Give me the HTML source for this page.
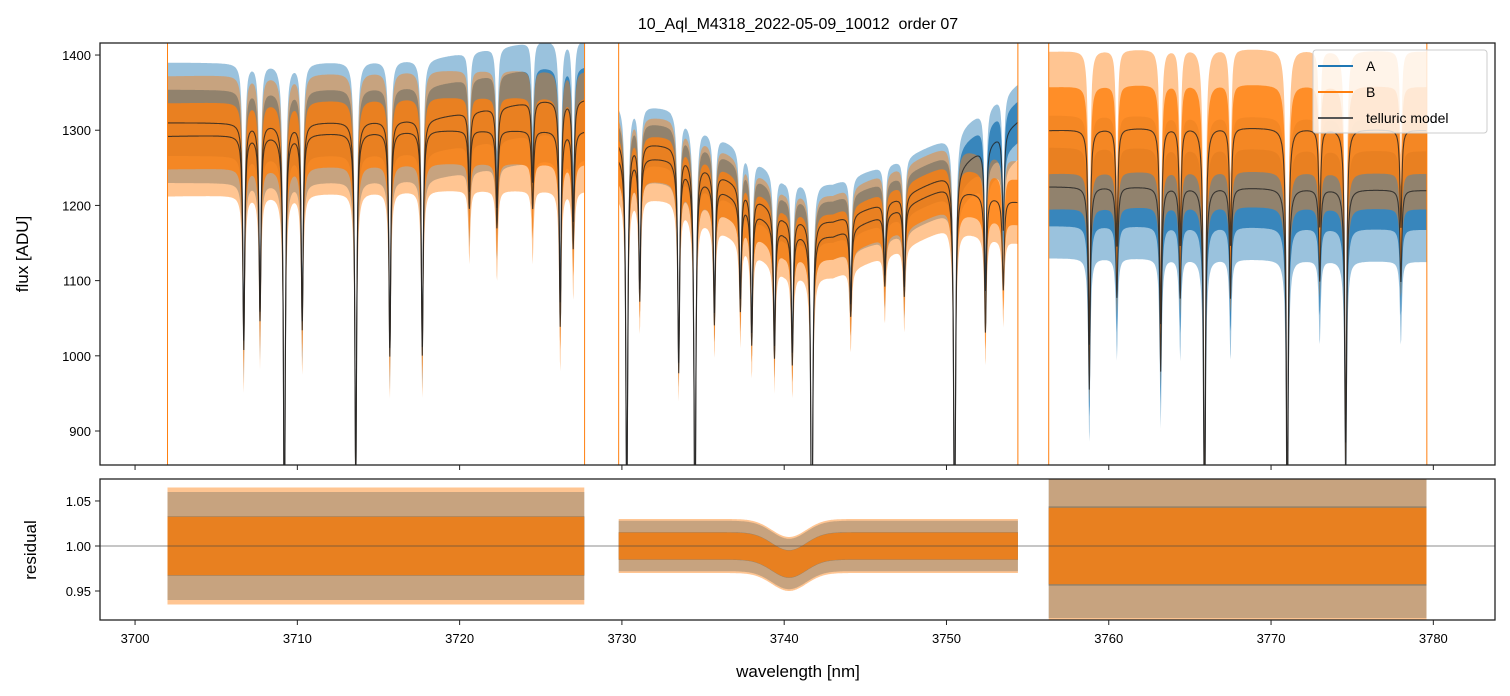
<!DOCTYPE html>
<html><head><meta charset="utf-8">
<style>
html,body{margin:0;padding:0;background:#fff;overflow:hidden;}
svg{display:block;font-family:"Liberation Sans","DejaVu Sans",sans-serif;}
</style></head>
<body>
<svg id="chart" width="1510" height="696" viewBox="0 0 1510 696" xmlns="http://www.w3.org/2000/svg">
<defs>
<clipPath id="clipTop"><rect x="100" y="43" width="1395" height="422"/></clipPath>
<clipPath id="clipBot"><rect x="100" y="479" width="1395" height="141"/></clipPath>
</defs>
<rect width="1510" height="696" fill="#fff"/>
<text x="798" y="29" font-size="16" text-anchor="middle">10_Aql_M4318_2022-05-09_10012 &#160;order 07</text>
<g id="topPlot" clip-path="url(#clipTop)"></g>
<g id="botPlot" clip-path="url(#clipBot)"></g>
<g id="axes"></g>
<text x="28" y="254" font-size="17" text-anchor="middle" transform="rotate(-90 28 254)">flux [ADU]</text>
<text x="36" y="550" font-size="17" text-anchor="middle" transform="rotate(-90 36 550)">residual</text>
<text x="798" y="677" font-size="17" text-anchor="middle">wavelength [nm]</text>
<g>
<rect x="1313" y="50" width="174" height="83" rx="3" fill="#fff" fill-opacity="0.8" stroke="#ccc"/>
<line x1="1318" y1="66" x2="1353" y2="66" stroke="#1f77b4" stroke-width="2"/>
<text x="1366" y="71" font-size="14">A</text>
<line x1="1318" y1="92" x2="1353" y2="92" stroke="#ff7f0e" stroke-width="2"/>
<text x="1366" y="97" font-size="14">B</text>
<line x1="1318" y1="118" x2="1353" y2="118" stroke="#555" stroke-width="2"/>
<text x="1366" y="123" font-size="14">telluric model</text>
</g>
</svg>
<script>
// ---- data ----
const segments = [[3702.0, 3727.7], [3729.8, 3754.4], [3756.3, 3779.6]];
const lineCenters = [3706.7,3707.7,3709.2,3710.3,3713.6,3715.7,3717.7,3720.6,3722.3,3724.5,3726.2,3727.0,
  3730.3,3731.1,3733.5,3734.5,3735.7,3737.3,3738.0,3739.4,3740.5,3741.7,3744.1,3746.2,3747.4,3750.5,3752.4,3753.5,
  3758.8,3760.5,3763.2,3764.4,3765.9,3767.5,3771.0,3773.0,3774.6,3778.0];
const lineDepths = [0.22,0.19,0.42,0.2,0.36,0.23,0.23,0.08,0.1,0.08,0.2,0.12,
  0.38,0.15,0.22,0.4,0.15,0.12,0.15,0.15,0.15,0.4,0.1,0.08,0.1,0.4,0.15,0.1,
  0.22,0.12,0.2,0.12,0.4,0.12,0.4,0.1,0.32,0.1];
const contWave = [3702,3710,3718,3725,3727.7,3729.8,3733,3737,3740,3743,3747,3750,3754.4,3756.3,3765,3779.6];
const contA    = [1310,1310,1315,1340,1342,1288,1280,1230,1185,1180,1210,1240,1312,1225,1225,1220];
const contB    = [1292,1295,1300,1300,1300,1268,1262,1210,1165,1160,1195,1225,1205,1300,1305,1300];
const noiseA = [80, 50, 95];
const noiseB = [80, 55, 105];
const residNoiseA = [0.06, 0.028, 0.08];
const residNoiseB = [0.065, 0.03, 0.085];
const residDipCenter = [3740.3];
const residDipDepth = [0.02];
const xTicks = [3700,3710,3720,3730,3740,3750,3760,3770,3780];
const yTicksTop = [900,1000,1100,1200,1300,1400];
const yTicksBot = [0.95,1.00,1.05];

// ---- scales ----
const X0=100,X1=1495, xMin=3697.84, xMax=3783.8;
const sx = w => X0 + (w - xMin)/(xMax - xMin)*(X1-X0);
const TY0=43,TY1=465, tMin=854.8, tMax=1416;
const sy = v => TY1 - (v - tMin)/(tMax - tMin)*(TY1-TY0);
const BY0=479,BY1=620, bMin=0.9178, bMax=1.0744;
const sb = v => BY1 - (v - bMin)/(bMax - bMin)*(BY1-BY0);
const NS='http://www.w3.org/2000/svg';
function mk(tag, attrs, parent){const e=document.createElementNS(NS,tag);for(const k in attrs)e.setAttribute(k,attrs[k]);parent.appendChild(e);return e;}

function interp(xs, ys, x){
  if(x<=xs[0])return ys[0];
  for(let i=1;i<xs.length;i++){if(x<=xs[i]){const t=(x-xs[i-1])/(xs[i]-xs[i-1]);return ys[i-1]+t*(ys[i]-ys[i-1]);}}
  return ys[ys.length-1];
}
function trans(w){let f=1;for(let i=0;i<lineCenters.length;i++){const d=(w-lineCenters[i])/0.07;f*=1-lineDepths[i]/(1+d*d);}return f;}

const topG = document.getElementById('topPlot');
const botG = document.getElementById('botPlot');

function bandPath(seg, fnLo, fnHi, scale){
  const pts=[], back=[];
  for(let w=seg[0]; w<=seg[1]+1e-9; w+=0.03){
    pts.push(sx(w).toFixed(1)+','+scale(fnHi(w)).toFixed(1));
    back.push(sx(w).toFixed(1)+','+scale(fnLo(w)).toFixed(1));
  }
  return 'M'+pts.join('L')+'L'+back.reverse().join('L')+'Z';
}
function modelPath(seg, cont){
  const pts=[];
  for(let w=seg[0]; w<=seg[1]+1e-9; w+=0.02) pts.push(sx(w).toFixed(1)+','+sy(interp(contWave,cont,w)*trans(w)).toFixed(1));
  return 'M'+pts.join('L');
}

segments.forEach((seg,i)=>{
  const mA = w=>interp(contWave,contA,w)*trans(w);
  const mB = w=>interp(contWave,contB,w)*trans(w);
  [[1,0.45],[0.55,0.8]].forEach(([k,op])=>{
    const pa = mk('path',{d:bandPath(seg,w=>mA(w)-k*noiseA[i]*trans(w),w=>mA(w)+k*noiseA[i]*trans(w),sy),fill:'#1f77b4','fill-opacity':op},topG);
    
    
  });
  [[1,0.45],[0.55,0.8]].forEach(([k,op])=>{
    const pb = mk('path',{d:bandPath(seg,w=>mB(w)-k*noiseB[i]*trans(w),w=>mB(w)+k*noiseB[i]*trans(w),sy),fill:'#ff7f0e','fill-opacity':op},topG);
    
    
  });
  [contA,contB].forEach(c=>{
    const m = mk('path',{d:modelPath(seg,c),fill:'none',stroke:'#222','stroke-opacity':0.8,'stroke-width':1.1},topG);
    
    
  });
  [seg[0],seg[1]].forEach(w=>{
    const l = mk('line',{x1:sx(w),x2:sx(w),y1:TY0,y2:TY1,stroke:'#ff7f0e','stroke-width':1},topG);
    
    
  });
});

segments.forEach((seg,i)=>{
  const dip = w=>{let d=0;for(let k=0;k<residDipCenter.length;k++){const z=(w-residDipCenter[k])/1.5;d+=residDipDepth[k]*Math.exp(-z*z);}return 1-d;};
  [[1,0.45],[0.55,0.85]].forEach(([k,op])=>{
    const ra = mk('path',{d:bandPath(seg,w=>dip(w)-k*residNoiseA[i],w=>dip(w)+k*residNoiseA[i],sb),fill:'#1f77b4','fill-opacity':op},botG);
    
    
  });
  [[1,0.45],[0.5,0.8]].forEach(([k,op])=>{
    const rb = mk('path',{d:bandPath(seg,w=>dip(w)-k*residNoiseB[i],w=>dip(w)+k*residNoiseB[i],sb),fill:'#ff7f0e','fill-opacity':op},botG);
    
    
  });
});
const ref = mk('line',{x1:X0,x2:X1,y1:sb(1),y2:sb(1),stroke:'#444','stroke-width':0.8,'stroke-opacity':0.8},botG);



const ax = document.getElementById('axes');
const f1 = mk('rect',{x:X0,y:TY0,width:X1-X0,height:TY1-TY0,fill:'none',stroke:'#222','stroke-width':1.3},ax);


const f2 = mk('rect',{x:X0,y:BY0,width:X1-X0,height:BY1-BY0,fill:'none',stroke:'#222','stroke-width':1.3},ax);


xTicks.forEach(t=>{
  const x=sx(t);
  mk('line',{x1:x,x2:x,y1:TY1,y2:TY1+5,stroke:'#222','stroke-width':1},ax);
  mk('line',{x1:x,x2:x,y1:BY1,y2:BY1+5,stroke:'#222','stroke-width':1},ax);
  const tx=mk('text',{x:x,y:BY1+23,'font-size':13,'text-anchor':'middle'},ax);
  tx.textContent=t;
  
  
});
yTicksTop.forEach(t=>{
  const y=sy(t);
  mk('line',{x1:X0-5,x2:X0,y1:y,y2:y,stroke:'#222','stroke-width':1},ax);
  const tx=mk('text',{x:X0-9,y:y+5,'font-size':13,'text-anchor':'end'},ax);
  tx.textContent=t;
  
  
});
yTicksBot.forEach(t=>{
  const y=sb(t);
  mk('line',{x1:X0-5,x2:X0,y1:y,y2:y,stroke:'#222','stroke-width':1},ax);
  const tx=mk('text',{x:X0-9,y:y+5,'font-size':13,'text-anchor':'end'},ax);
  tx.textContent=t.toFixed(2);
  
  
});
</script>
</body></html>
